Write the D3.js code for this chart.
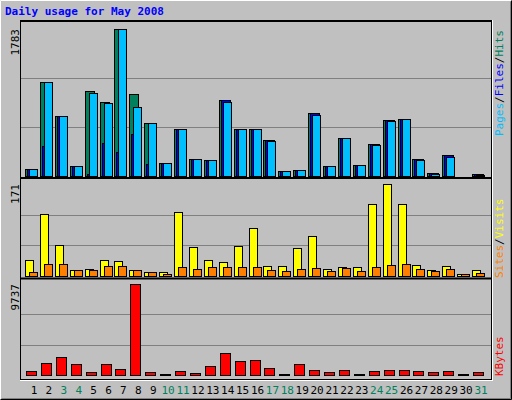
<!DOCTYPE html>
<html><head><meta charset="utf-8">
<script src="https://cdn.jsdelivr.net/npm/d3@7"></script>
<style>body{margin:0;background:#fff}svg{display:block}</style>
</head><body>
<script>
const days = d3.range(1,32);
const weekend = [3,4,10,11,17,18,24,25,31];
const hits  = [85,1140,730,120,1030,900,1783,1000,640,160,570,205,195,920,570,570,440,60,75,760,120,460,135,390,680,690,205,40,255,5,25];
const files = [85,365,730,120,25,400,290,510,145,160,570,205,195,920,570,570,440,60,75,760,120,460,135,390,680,690,205,40,255,5,25];
const pages = [85,1140,730,120,1010,880,1783,840,640,160,570,205,190,900,570,570,430,60,75,740,120,460,135,380,670,690,200,30,235,5,15];
const visits= [30,115,58,11,13,30,28,11,7,7,119,54,30,26,56,89,19,19,52,74,13,17,17,134,171,134,20,11,19,4,11];
const sites = [7,22,22,11,11,19,19,11,7,4,17,13,17,17,17,17,11,9,13,15,9,15,9,17,20,22,13,9,13,4,6];
const kbytes= [430,1280,1930,1180,320,1180,640,9737,320,110,430,210,960,2350,1500,1600,750,110,1180,530,320,530,110,430,530,530,430,320,430,110,320];
const maxes = [1783,171,9737];

const W=512,H=400;
const svg=d3.select("body").append("svg").attr("width",W).attr("height",H);
svg.append("rect").attr("x",0).attr("y",0).attr("width",W).attr("height",H).attr("fill","#C0C0C0");
svg.append("path").attr("d","M0.5,399.5V0.5H511.5").attr("stroke","#fff").attr("fill","none");
svg.append("path").attr("d","M0.5,399.5H511.5V0.5").attr("stroke","#000").attr("fill","none");
svg.append("path").attr("d","M1.5,398.5H510.5V1.5").attr("stroke","#808080").attr("fill","none");
svg.append("text").attr("x",5).attr("y",15).text("Daily usage for May 2008")
  .attr("font-family","DejaVu Sans Mono").attr("font-weight","bold").attr("font-size",11).attr("fill","#0000FF");

const xL=20,xR=491;
const x=d3.scaleLinear().domain([1,31]).range([34,481]);
svg.append("rect").attr("x",xL+0.5).attr("y",20.5).attr("width",xR-xL).attr("height",359).attr("fill","none").attr("stroke","#000").attr("stroke-width",1);
svg.append("path").attr("d",`M${xL+1},20.5H${xR}M${xL+1},21.5H${xR}`).attr("stroke","#000");
svg.append("path").attr("d",`M${xR+1.5},20V381M${xL},380.5H${xR+2}`).attr("stroke","#fff");

const panels=[{top:29,bot:176,sep:178},{top:184,bot:276,sep:278.5},{top:284,bot:375}];
panels.forEach((p,i)=>{
  const y=d3.scaleLinear().domain([0,maxes[i]]).range([p.bot,p.top]);
  p.y=y;
  const g=svg.append("g");
  g.append("rect").attr("x",xL+1).attr("y",i==0?22:panels[i-1].sep+1.5).attr("width",xR-xL-1).attr("height",(p.sep||379)-(i==0?22:panels[i-1].sep+1.5)).attr("fill","#C0C0C0");
  [1/3,2/3].forEach(f=>g.append("line").attr("x1",xL+1).attr("x2",xR).attr("y1",Math.round(y(maxes[i]*f))+0.5).attr("y2",Math.round(y(maxes[i]*f))+0.5).attr("stroke","#808080"));
  if(p.sep) g.append("line").attr("x1",xL).attr("x2",xR).attr("y1",p.sep).attr("y2",p.sep).attr("stroke","#000").attr("stroke-width",2);
  svg.append("text").attr("transform",`translate(19,${p.top}) rotate(-90)`).attr("text-anchor","end")
    .attr("font-family","DejaVu Sans Mono").attr("font-size",11).attr("fill","#000").text(maxes[i]);
});

function bars(data,panel,color,dx,w){
  const y=panels[panel].y;
  svg.append("g").selectAll("rect").data(data).join("rect")
    .attr("x",(d,i)=>Math.round(x(days[i]))+dx+0.5)
    .attr("y",d=>Math.round(y(d))+0.5)
    .attr("width",w).attr("height",d=>Math.max(0,panels[panel].bot-Math.round(y(d))))
    .attr("fill",color).attr("stroke","#000").attr("stroke-width",1);
}
bars(hits,0,"#00805C",-9,9);
bars(files,0,"#0000FF",-7,9);
bars(pages,0,"#00BFFF",-5,8);
bars(visits,1,"#FFFF00",-9,8);
bars(sites,1,"#FF8000",-5,8);
bars(kbytes,2,"#FF0000",-8,10);

svg.append("g").selectAll("text").data(days).join("text")
  .attr("x",d=>x(d)).attr("y",394).attr("text-anchor","middle")
  .attr("font-family","DejaVu Sans Mono").attr("font-size",11)
  .attr("fill",d=>weekend.includes(d)?"#00805C":"#000").text(d=>d);

function rlabel(yBot,parts){
  const t=svg.append("text").attr("transform",`translate(503,${yBot}) rotate(-90)`)
    .attr("font-family","DejaVu Sans Mono").attr("font-size",11);
  parts.forEach(([s,c])=>t.append("tspan").attr("fill",c).text(s));
}
rlabel(136,[["Pages","#00BFFF"],["/","#000"],["Files","#0000FF"],["/","#000"],["Hits","#00805C"]]);
rlabel(278,[["Sites","#FF8000"],["/","#000"],["Visits","#FFFF00"]]);
rlabel(376,[["KBytes","#FF0000"]]);
</script>
</body></html>
